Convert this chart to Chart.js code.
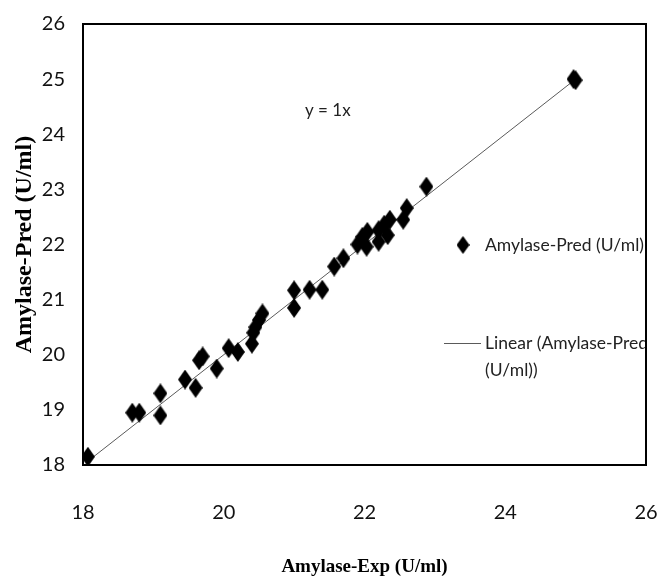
<!DOCTYPE html>
<html>
<head>
<meta charset="utf-8">
<script src="https://cdn.jsdelivr.net/npm/chart.js@4.4.1/dist/chart.umd.min.js"></script>
<style>
  html, body { margin: 0; padding: 0; background: #fff; }
  #wrap { width: 669px; height: 581px; }
</style>
</head>
<body>
<div id="wrap"><canvas id="grafico" width="669" height="581"></canvas></div>
<script>
// valores experimentales y predichos de amilasa (U/ml)
const amilasaExp = [18.07, 18.7, 18.8, 19.1, 19.1, 19.45, 19.6, 19.65, 19.7, 19.9, 20.07, 20.2,
    20.4, 20.42, 20.45, 20.5, 20.55, 21.0, 21.0, 21.22, 21.4, 21.57, 21.7, 21.9, 21.97, 22.03,
    22.04, 22.2, 22.2, 22.28, 22.33, 22.36, 22.55, 22.6, 22.88, 24.97, 25.0];
const amilasaPred = [18.15, 18.95, 18.95, 19.3, 18.9, 19.55, 19.4, 19.9, 19.97, 19.75, 20.12, 20.05,
    20.2, 20.4, 20.5, 20.63, 20.75, 21.17, 20.85, 21.18, 21.18, 21.6, 21.75, 22.0, 22.14, 21.96,
    22.23, 22.26, 22.05, 22.36, 22.17, 22.45, 22.45, 22.66, 23.05, 25.0, 24.98];

// ecuación de la tendencia lineal (y = 1x)
const pendiente = 1;
const etiquetaEcuacion = "y = 1x";

const ticksX = [18, 20, 22, 24, 26];
const ticksY = [18, 19, 20, 21, 22, 23, 24, 25, 26];

const nombreSerie = "Amylase-Pred (U/ml)";
const nombreTendencia = ["Linear (Amylase-Pred", "(U/ml))"];

// marcador en forma de rombo, algo más alto que ancho
const crearRombo = (w, h) => {
    const c = document.createElement("canvas");
    c.width = w; c.height = h;
    const g = c.getContext("2d");
    g.fillStyle = "#000";
    g.beginPath();
    g.moveTo(w / 2, 0);
    g.lineTo(w, h / 2);
    g.lineTo(w / 2, h);
    g.lineTo(0, h / 2);
    g.closePath();
    g.fill();
    return c;
};
const rombo = crearRombo(14, 20);
const romboLeyenda = crearRombo(13, 18);

const puntos = amilasaExp.map((x, i) => ({ x: x, y: amilasaPred[i] }));
const xMin = Math.min(...amilasaExp), xMax = Math.max(...amilasaExp);
const tendencia = [
    { x: xMin, y: pendiente * xMin },
    { x: xMax, y: pendiente * xMax }
];

const fuenteTicks = { family: "Lato, 'Open Sans', sans-serif", size: 20 };
const fuenteTitulo = { family: "'Liberation Serif', 'Times New Roman', serif", size: 19, weight: "bold" };

// marco, ecuación y leyenda dentro del área de trazado
const pluginExtras = {
    id: "extras",
    afterDatasetsDraw(chart) {
        const { ctx, chartArea: a } = chart;
        ctx.save();
        ctx.strokeStyle = "#000";
        ctx.lineWidth = 2;
        ctx.strokeRect(a.left, a.top, a.right - a.left, a.bottom - a.top);

        ctx.beginPath();
        ctx.rect(a.left, a.top, a.right - a.left - 1, a.bottom - a.top);
        ctx.clip();

        ctx.fillStyle = "#222";
        ctx.font = "17px Lato, 'Open Sans', sans-serif";
        ctx.textBaseline = "middle";
        ctx.textAlign = "left";
        ctx.fillText(etiquetaEcuacion, a.left + 222, a.top + 87);

        // leyenda
        const ds = chart.data.datasets;
        ctx.font = "17.5px Lato, 'Open Sans', sans-serif";
        const xTexto = a.left + 402;
        ctx.drawImage(romboLeyenda, a.left + 380 - 6.5, a.top + 221 - 9);
        ctx.fillText(ds[0].label, xTexto, a.top + 221);

        ctx.strokeStyle = ds[1].borderColor;
        ctx.lineWidth = 1;
        ctx.beginPath();
        ctx.moveTo(a.left + 361, a.top + 319.5);
        ctx.lineTo(a.left + 398, a.top + 319.5);
        ctx.stroke();
        ctx.fillText(nombreTendencia[0], xTexto, a.top + 319);
        ctx.fillText(nombreTendencia[1], xTexto, a.top + 346);
        ctx.restore();
    }
};

const ctx = document.getElementById("grafico").getContext("2d");
new Chart(ctx, {
    type: "scatter",
    data: {
        datasets: [
            {
                label: nombreSerie,
                data: puntos,
                pointStyle: rombo,
                backgroundColor: "#000",
                borderColor: "#000",
                order: 1
            },
            {
                type: "line",
                label: nombreTendencia.join(" "),
                data: tendencia,
                borderColor: "#5a5a5a",
                borderWidth: 1,
                pointRadius: 0,
                fill: false,
                order: 2
            }
        ]
    },
    options: {
        responsive: false,
        animation: false,
        layout: { padding: { left: 10, right: 23, top: 24, bottom: 0 } },
        plugins: {
            legend: { display: false },
            tooltip: { enabled: false }
        },
        scales: {
            x: {
                type: "linear",
                min: 18, max: 26,
                afterBuildTicks: s => { s.ticks = ticksX.map(v => ({ value: v })); },
                afterFit: s => {
                    s.height = 581 - 465;
                    s.paddingLeft = 0;
                    s.paddingRight = 0;
                },
                grid: { display: false, drawTicks: false },
                border: { display: true, color: "#000", width: 2 },
                ticks: { color: "#111", font: fuenteTicks, padding: 36 },
                title: {
                    display: true,
                    text: "Amylase-Exp (U/ml)",
                    color: "#000",
                    font: fuenteTitulo,
                    padding: { top: 0, bottom: 3 }
                }
            },
            y: {
                type: "linear",
                min: 18, max: 26,
                afterBuildTicks: s => { s.ticks = ticksY.map(v => ({ value: v })); },
                afterFit: s => {
                    s.width = 83 - 10;
                    s.paddingTop = 0;
                    s.paddingBottom = 0;
                },
                grid: { display: false, drawTicks: false },
                border: { display: true, color: "#000", width: 2 },
                ticks: { color: "#111", font: fuenteTicks, padding: 18 },
                title: {
                    display: true,
                    text: "Amylase-Pred (U/ml)",
                    color: "#000",
                    font: { family: fuenteTitulo.family, size: 24, weight: "bold" },
                    padding: { top: 0, bottom: 0 }
                }
            }
        }
    },
    plugins: [pluginExtras]
});
</script>
</body>
</html>
